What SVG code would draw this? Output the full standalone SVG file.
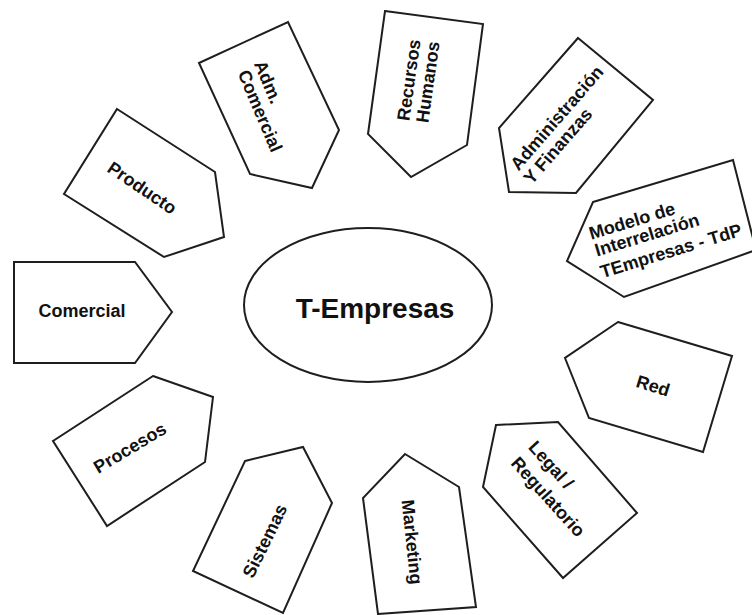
<svg xmlns="http://www.w3.org/2000/svg" width="752" height="615" viewBox="0 0 752 615">
<style>
.shape{fill:#ffffff;stroke:#1e1e1e;stroke-width:2;stroke-linejoin:miter}
.lbl{font-family:"Liberation Sans",Arial,sans-serif;font-weight:bold;font-size:18px;fill:#111111;text-anchor:middle;dominant-baseline:central}
.main{font-family:"Liberation Sans",Arial,sans-serif;font-weight:bold;font-size:28px;fill:#111111;text-anchor:middle}
</style>
<rect width="752" height="615" fill="#ffffff"/>
<g id="connectors"></g>
<g id="t-empresas">
<ellipse class="shape" cx="368" cy="305" rx="124" ry="77" stroke="#333333" stroke-width="1.5"/>
<text class="main" x="375" y="318">T-Empresas</text>
</g>
<g id="comercial">
<polygon class="shape" points="14,262 135,262 172,312 135,363 14,363"/>
<text class="lbl" transform="translate(82,311)">Comercial</text>
</g>
<g id="producto">
<polygon class="shape" points="117,109 215,172 224,237 164,257 64,194"/>
<text class="lbl" transform="translate(142,188) rotate(34)">Producto</text>
</g>
<g id="adm-comercial">
<polygon class="shape" points="199,63 288,22 339,130 312,188 250,174"/>
<text class="lbl" transform="translate(268,82) rotate(67)">Adm.</text>
<text class="lbl" transform="translate(260,111) rotate(67)">Comercial</text>
</g>
<g id="recursos-humanos">
<polygon class="shape" points="385,11 483,24 467,145 411,177 368,134"/>
<text class="lbl" transform="translate(409,80) rotate(-82)">Recursos</text>
<text class="lbl" transform="translate(428,82) rotate(-82)">Humanos</text>
</g>
<g id="administracion-finanzas">
<polygon class="shape" points="578,38 653,100 576,193 509,192 499,128"/>
<text class="lbl" transform="translate(557,118) rotate(-49)">Administración</text>
<text class="lbl" transform="translate(558,146) rotate(-49)">Y Finanzas</text>
</g>
<g id="modelo-interrelacion">
<polygon class="shape" points="593,202 733,160 756,250 624,297 567,261"/>
<text class="lbl" transform="translate(632,221) rotate(-17)">Modelo de</text>
<text class="lbl" transform="translate(647,235) rotate(-17)">Interrelación</text>
<text class="lbl" transform="translate(671,251) rotate(-17)">TEmpresas - TdP</text>
</g>
<g id="red">
<polygon class="shape" points="618,322 732,356 703,452 589,418 565,358"/>
<text class="lbl" transform="translate(653,386) rotate(17)">Red</text>
</g>
<g id="legal-regulatorio">
<polygon class="shape" points="496,425 558,422 637,513 563,578 483,487"/>
<text class="lbl" transform="translate(551,465) rotate(48)">Legal /</text>
<text class="lbl" transform="translate(548,497) rotate(48)">Regulatorio</text>
</g>
<g id="marketing">
<polygon class="shape" points="405,454 459,487 476,607 378,614 363,498"/>
<text class="lbl" transform="translate(412,542) rotate(84)" font-size="19">Marketing</text>
</g>
<g id="sistemas">
<polygon class="shape" points="245,461 303,447 332,503 283,613 193,571"/>
<text class="lbl" transform="translate(265,541) rotate(-64)">Sistemas</text>
</g>
<g id="procesos">
<polygon class="shape" points="153,376 213,397 205,462 107,526 53,441"/>
<text class="lbl" transform="translate(130,448) rotate(-31)">Procesos</text>
</g>
</svg>
